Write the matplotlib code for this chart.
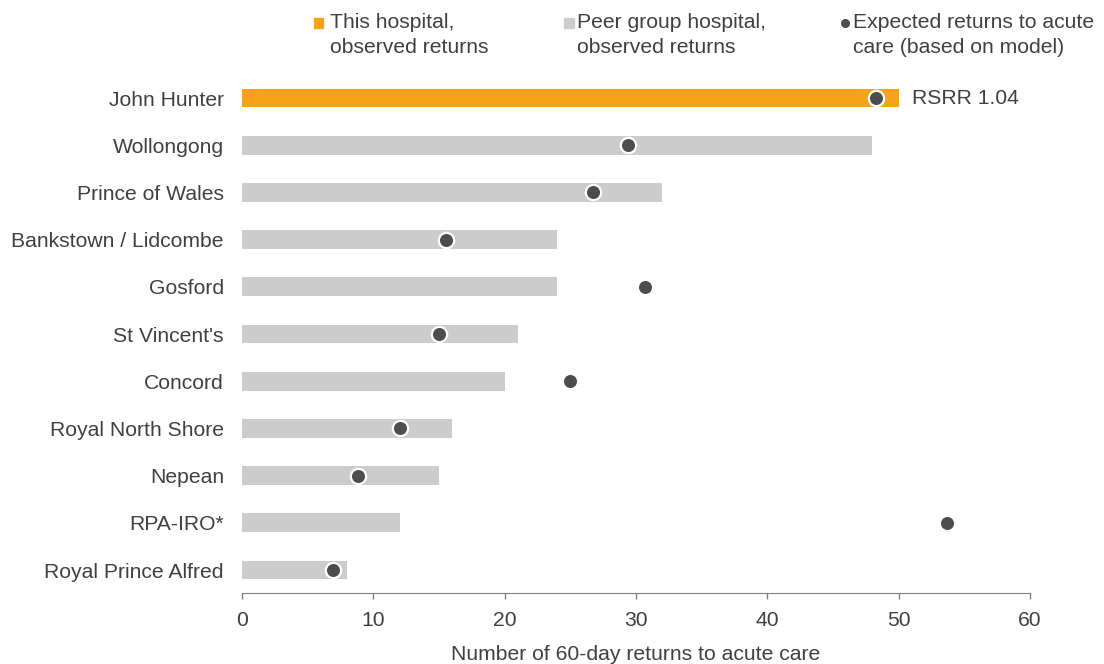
import numpy as np
import matplotlib.pyplot as plt
from matplotlib.lines import Line2D
from matplotlib.patches import Rectangle

plt.rcParams['font.family'] = ['Liberation Sans', 'DejaVu Sans']

hospitals = ["John Hunter", "Wollongong", "Prince of Wales", "Bankstown / Lidcombe",
             "Gosford", "St Vincent's", "Concord", "Royal North Shore", "Nepean",
             "RPA-IRO*", "Royal Prince Alfred"]
observed = [50, 48, 32, 24, 24, 21, 20, 16, 15, 12, 8]
expected = [48.3, 29.4, 26.7, 15.5, 30.7, 15.0, 25.0, 12.0, 8.8, 53.7, 6.9]
this_hospital = "John Hunter"
rsrr_label = "RSRR 1.04"

orange = "#F7A21B"
grey = "#CCCCCC"
dot = "#4D4D4D"
text_col = "#404040"
fs = 15.2

fig = plt.figure(figsize=(11.04, 6.64), dpi=100)
ax = fig.add_axes([0.2192, 0.1069, 0.7138, 0.781])

y = np.arange(len(hospitals))
colours = [orange if h == this_hospital else grey for h in hospitals]
ax.barh(y, observed, height=0.4, color=colours, zorder=1)
ax.plot(expected, y, "o", color=dot, markersize=11, markeredgecolor="white",
        markeredgewidth=1.6, linestyle="none", zorder=3)

i = hospitals.index(this_hospital)
ax.text(observed[i] + 1.0, y[i], rsrr_label, va="center", ha="left",
        fontsize=fs, color=text_col)

ax.set_xlim(0, 60)
ax.set_ylim(10 + 23 / 47.2, -0.5)
ax.set_xticks(range(0, 61, 10))
ax.set_yticks(y)
ax.set_yticklabels(hospitals)
ax.tick_params(axis="y", length=0, pad=13, labelsize=fs, labelcolor=text_col)
ax.tick_params(axis="x", length=4, width=1, color="#808080", pad=9,
               labelsize=fs, labelcolor=text_col)
for s in ["top", "right", "left"]:
    ax.spines[s].set_visible(False)
ax.spines["bottom"].set_color("#808080")
ax.set_xlabel("Number of 60-day returns to acute care", fontsize=fs,
              color=text_col, labelpad=11)

# legend drawn by hand so the markers sit on the first text line
legend_items = [("This hospital,\nobserved returns", "square", orange, 0.2885, 0.299),
                ("Peer group hospital,\nobserved returns", "square", grey, 0.5150, 0.5226),
                ("Expected returns to acute\ncare (based on model)", "dot", dot, 0.7654, 0.7726)]
for label, kind, col, mx, tx in legend_items:
    if kind == "square":
        fig.add_artist(Rectangle((mx - 0.0045, 0.9575), 0.009, 0.0155, color=col,
                                 transform=fig.transFigure))
    else:
        fig.add_artist(Line2D([mx], [0.966], marker="o", markersize=5.5, color=col,
                              transform=fig.transFigure))
    # baseline of the last line, 25 px below the first
    fig.text(tx, 1 - 53 / 664, label, ha="left", va="baseline", fontsize=fs,
             color=text_col, linespacing=1.37)

fig.savefig("out.png", dpi=100)
